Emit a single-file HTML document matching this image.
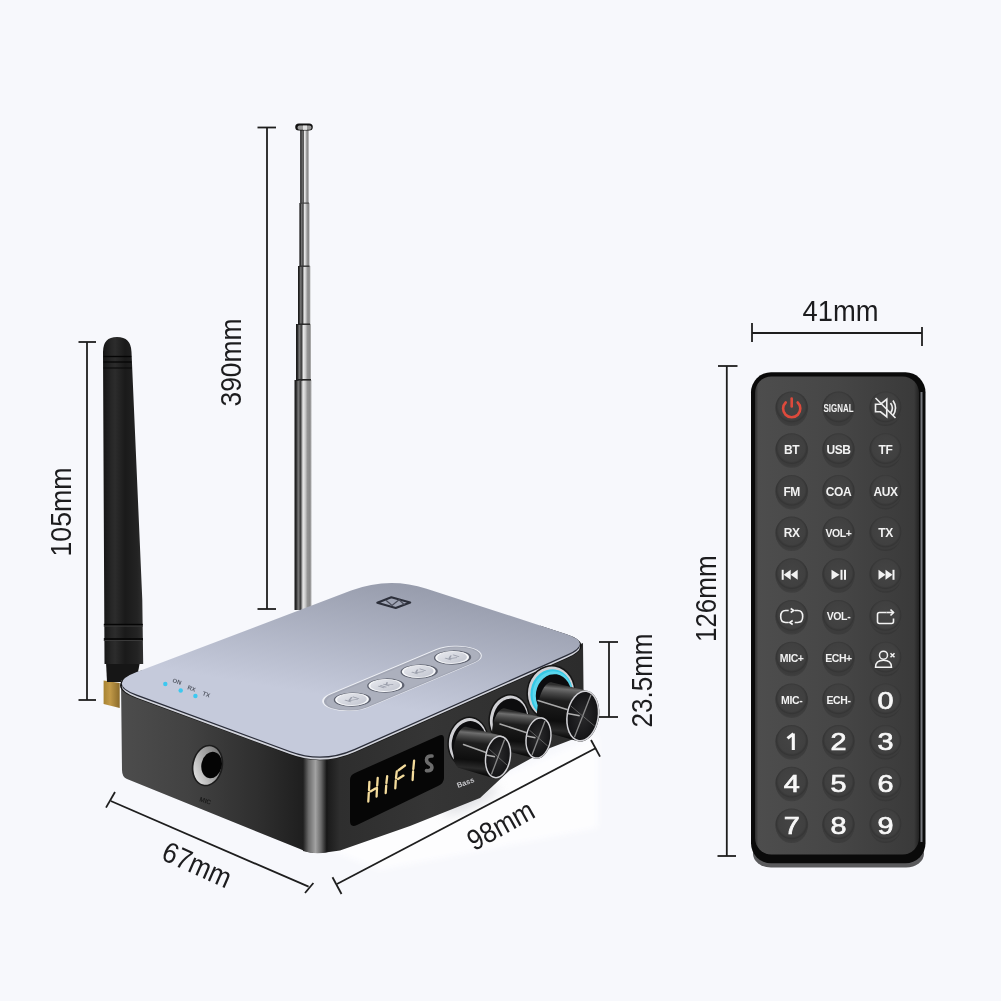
<!DOCTYPE html>
<html><head><meta charset="utf-8">
<style>
html,body{margin:0;padding:0;background:#f7f8fc;width:1001px;height:1001px;overflow:hidden}
svg{position:absolute;left:0;top:0;display:block;will-change:transform}
text{font-family:"Liberation Sans",sans-serif}
</style></head>
<body>
<svg width="1001" height="1001" viewBox="0 0 1001 1001">
<defs>
  <linearGradient id="topface" gradientUnits="userSpaceOnUse" x1="400" y1="585" x2="380" y2="705">
    <stop offset="0" stop-color="#989dad"/>
    <stop offset="1" stop-color="#c5cadb"/>
  </linearGradient>
  <linearGradient id="leftface" gradientUnits="userSpaceOnUse" x1="125" y1="0" x2="305" y2="0">
    <stop offset="0" stop-color="#4c4c4c"/>
    <stop offset="0.35" stop-color="#424242"/>
    <stop offset="0.75" stop-color="#2e2e2e"/>
    <stop offset="1" stop-color="#1e1e1e"/>
  </linearGradient>
  <linearGradient id="frontface" gradientUnits="userSpaceOnUse" x1="327" y1="0" x2="580" y2="0">
    <stop offset="0" stop-color="#1a1a1a"/>
    <stop offset="0.05" stop-color="#2e2e2e"/>
    <stop offset="0.4" stop-color="#353535"/>
    <stop offset="1" stop-color="#2c2c2c"/>
  </linearGradient>
  <linearGradient id="corner" gradientUnits="userSpaceOnUse" x1="303" y1="0" x2="328" y2="0">
    <stop offset="0" stop-color="#1e1e1e"/>
    <stop offset="0.22" stop-color="#6a6a6a"/>
    <stop offset="0.5" stop-color="#a2a2a2"/>
    <stop offset="0.72" stop-color="#6a6a6a"/>
    <stop offset="0.95" stop-color="#161616"/>
    <stop offset="1" stop-color="#1a1a1a"/>
  </linearGradient>
  <linearGradient id="ant" x1="0" y1="0" x2="1" y2="0">
    <stop offset="0" stop-color="#161616"/>
    <stop offset="0.1" stop-color="#2a2a2a"/>
    <stop offset="0.22" stop-color="#7a7a7a"/>
    <stop offset="0.36" stop-color="#3c3c3c"/>
    <stop offset="0.5" stop-color="#e6e6e6"/>
    <stop offset="0.62" stop-color="#cfcfcf"/>
    <stop offset="0.76" stop-color="#959595"/>
    <stop offset="0.9" stop-color="#8a8a8a"/>
    <stop offset="1" stop-color="#b4b4b4"/>
  </linearGradient>
  <linearGradient id="bant" x1="0" y1="0" x2="1" y2="0">
    <stop offset="0" stop-color="#141414"/>
    <stop offset="0.2" stop-color="#262626"/>
    <stop offset="0.3" stop-color="#2c2c2c"/>
    <stop offset="0.55" stop-color="#1a1a1a"/>
    <stop offset="0.85" stop-color="#232323"/>
    <stop offset="1" stop-color="#303030"/>
  </linearGradient>
  <linearGradient id="knobcyl" x1="0" y1="0" x2="0" y2="1">
    <stop offset="0" stop-color="#2a2a2c"/>
    <stop offset="0.25" stop-color="#6a6a6e"/>
    <stop offset="0.45" stop-color="#1c1c1e"/>
    <stop offset="1" stop-color="#0c0c0e"/>
  </linearGradient>
  <radialGradient id="knobface" cx="0.5" cy="0.5" r="0.5">
    <stop offset="0" stop-color="#2a2a2c"/>
    <stop offset="1" stop-color="#141416"/>
  </radialGradient>
  <radialGradient id="btn" cx="0.5" cy="0.45" r="0.5">
    <stop offset="0" stop-color="#444444"/>
    <stop offset="0.8" stop-color="#404040"/>
    <stop offset="0.93" stop-color="#353535"/>
    <stop offset="1" stop-color="#3c3c3c"/>
  </radialGradient>
  <linearGradient id="remface" x1="0" y1="0" x2="1" y2="0">
    <stop offset="0" stop-color="#2e2e2e"/>
    <stop offset="0.02" stop-color="#4d4d4d"/>
    <stop offset="0.5" stop-color="#464646"/>
    <stop offset="0.97" stop-color="#3a3a3a"/>
    <stop offset="1" stop-color="#222"/>
  </linearGradient>
  <linearGradient id="silverbtn" x1="0" y1="0" x2="0" y2="1">
    <stop offset="0" stop-color="#e4e6ec"/>
    <stop offset="1" stop-color="#c4c7d1"/>
  </linearGradient>
</defs>

<!-- white glow patch -->
<filter id="blur4" x="-20%" y="-20%" width="140%" height="140%"><feGaussianBlur stdDeviation="3"/></filter>
<filter id="blur8" x="-30%" y="-30%" width="160%" height="160%"><feGaussianBlur stdDeviation="6"/></filter>
<path d="M330 850 L598 735 L598 828 L380 870 Z" fill="#fdfdfe" filter="url(#blur4)"/>
<ellipse cx="470" cy="800" rx="30" ry="7" transform="rotate(-25 470 800)" fill="#cfd0d6" opacity="0.7" filter="url(#blur8)"/>
<!-- ============ DIMENSION LINES ============ -->
<g stroke="#1e1e1e" stroke-width="1.8" fill="none">
  <!-- 390mm -->
  <line x1="267" y1="127" x2="267" y2="609"/>
  <line x1="257.5" y1="127.5" x2="276" y2="127.5"/>
  <line x1="257.5" y1="609" x2="276" y2="609"/>
  <!-- 105mm -->
  <line x1="87" y1="342" x2="87" y2="700"/>
  <line x1="78.5" y1="342" x2="96" y2="342"/>
  <line x1="78.5" y1="700" x2="96" y2="700"/>
  <!-- 41mm -->
  <line x1="752" y1="333" x2="922" y2="333"/>
  <line x1="752" y1="323" x2="752" y2="342"/>
  <line x1="922" y1="327" x2="922" y2="346"/>
  <!-- 126mm -->
  <line x1="726.8" y1="366" x2="726.8" y2="856"/>
  <line x1="718" y1="366" x2="737.5" y2="366"/>
  <line x1="717.5" y1="856" x2="736" y2="856"/>
  <!-- 23.5mm -->
  <line x1="609" y1="642" x2="609" y2="717"/>
  <line x1="599" y1="642" x2="618" y2="642"/>
  <line x1="599" y1="717" x2="618" y2="717"/>
  <!-- 67mm -->
  <line x1="110.8" y1="801" x2="308.6" y2="886.7"/>
  <line x1="106" y1="807.6" x2="115" y2="792"/>
  <line x1="305" y1="893" x2="313.4" y2="883"/>
  <!-- 98mm -->
  <line x1="337" y1="884" x2="596" y2="748"/>
  <line x1="332.5" y1="877.3" x2="341.5" y2="894"/>
  <line x1="591" y1="740" x2="600" y2="756.6"/>
</g>

<g fill="#1c1c1e" font-size="29" lengthAdjust="spacingAndGlyphs">
  <text transform="translate(240.5,406.5) rotate(-90)" textLength="88" lengthAdjust="spacingAndGlyphs">390mm</text>
  <text transform="translate(70.5,556.5) rotate(-90)" textLength="89" lengthAdjust="spacingAndGlyphs">105mm</text>
  <text transform="translate(715.5,642) rotate(-90)" textLength="86.5" lengthAdjust="spacingAndGlyphs">126mm</text>
  <text x="802.5" y="320.5" textLength="76" lengthAdjust="spacingAndGlyphs">41mm</text>
  <text transform="translate(652,727.5) rotate(-90)" textLength="94" lengthAdjust="spacingAndGlyphs">23.5mm</text>
  <text transform="translate(160,859) rotate(24)" textLength="72.5" lengthAdjust="spacingAndGlyphs">67mm</text>
  <text transform="translate(474,851.5) rotate(-29)" textLength="72" lengthAdjust="spacingAndGlyphs">98mm</text>
</g>

<!-- ============ TELESCOPIC ANTENNA ============ -->
<g>
  <rect x="294.5" y="380" width="17" height="230" fill="url(#ant)"/>
  <rect x="296" y="324" width="15" height="57" fill="url(#ant)"/>
  <rect x="298" y="266" width="12.4" height="59" fill="url(#ant)"/>
  <rect x="299.4" y="203" width="10.2" height="64" fill="url(#ant)"/>
  <rect x="300.2" y="130" width="8.6" height="74" fill="url(#ant)"/>
    <rect x="295.2" y="123.4" width="17.6" height="7.2" rx="3.6" fill="#111"/>
  <rect x="297.5" y="125.6" width="14" height="4.2" rx="2" fill="#9a9a9a"/>
  <rect x="303" y="125.6" width="4" height="4.2" fill="#e0e0e0"/>
  <rect x="297" y="379" width="14" height="1.6" fill="#222"/>
  <rect x="298" y="323.5" width="12" height="1.4" fill="#222"/>
  <rect x="299.5" y="265.5" width="10" height="1.4" fill="#333"/>
  <rect x="300" y="202.5" width="9" height="1.2" fill="#444"/>
</g>

<!-- ============ BLACK ANTENNA ============ -->
<g>
  <linearGradient id="gold" x1="0" y1="0" x2="1" y2="0">
    <stop offset="0" stop-color="#a88432"/><stop offset="0.4" stop-color="#c29a48"/><stop offset="1" stop-color="#8a6a2a"/>
  </linearGradient>
  <path d="M103.6 680.5 L119.7 683 L119.7 708 L103.6 704 Z" fill="url(#gold)"/>
  <path d="M106 662 L140 662 L136 682 L107 682 Z" fill="#161616"/>
  <path d="M103 352 Q103 337 117 337 Q131 337 131.5 352 L142.3 600 L143.2 664 L104.5 664 Z" fill="url(#bant)"/>
  <rect x="103.8" y="623.8" width="39" height="1.6" fill="#050505"/>
  <rect x="103.8" y="625.6" width="39" height="1" fill="#3a3a3a"/>
  <rect x="103.8" y="638.2" width="39.2" height="1.6" fill="#050505"/>
  <rect x="103.8" y="640" width="39.2" height="1" fill="#3a3a3a"/>
  <path d="M103.5 356.5 L131.3 356.5" stroke="#050505" stroke-width="1.3"/>
  <path d="M103.5 362 L131.5 362" stroke="#050505" stroke-width="1.3"/>
  <path d="M103.5 368 L131.7 368" stroke="#0a0a0a" stroke-width="1.1"/>
</g>

<!-- ============ DEVICE BODY ============ -->
<g>
  <!-- left face (MIC) -->
  <path d="M121 680 L316 752 L316 853 Q308 853 300 849 L127 779 Q122 777 122 770 Z" fill="url(#leftface)"/>
  <!-- front face -->
  <path d="M312 752 L583 643 L584 735 L550 748 L510 770 L480 798 L410 826 L340 850.4 Q325 853 312 853 Z" fill="url(#frontface)"/>
  <!-- corner highlight -->
  <path d="M303 752 L328 758 L328 852 Q316 855 303 851 Z" fill="url(#corner)"/>
  <!-- top face bevel (silver rim) -->
  <clipPath id="outclip"><path d="M95 655 L142 655 L142 677 L540 640 L540 600 L620 600 L620 900 L95 900 Z"/></clipPath>
  <path d="M136.8 694.6 Q106.8 683.5 136.7 672.1 L351.1 590.6 Q388.5 576.4 426.6 588.7 L565.9 633.9 Q593.5 642.8 567.0 654.6 L354.7 748.8 Q322.7 763.0 289.9 750.9 Z" fill="#151515" stroke="#151515" stroke-width="3.5" transform="translate(0,2)" clip-path="url(#outclip)"/>
  <path d="M136.8 694.6 Q106.8 683.5 136.7 672.1 L351.1 590.6 Q388.5 576.4 426.6 588.7 L565.9 633.9 Q593.5 642.8 567.0 654.6 L354.7 748.8 Q322.7 763.0 289.9 750.9 Z" fill="#d2d4dc" transform="translate(0,3.2)"/>
  <path d="M136.8 694.6 Q106.8 683.5 136.7 672.1 L351.1 590.6 Q388.5 576.4 426.6 588.7 L565.9 633.9 Q593.5 642.8 567.0 654.6 L354.7 748.8 Q322.7 763.0 289.9 750.9 Z" fill="#2b2e3a" transform="translate(0,1.4)"/>
  <!-- top face -->
  <path d="M136.8 694.6 Q106.8 683.5 136.7 672.1 L351.1 590.6 Q388.5 576.4 426.6 588.7 L565.9 633.9 Q593.5 642.8 567.0 654.6 L354.7 748.8 Q322.7 763.0 289.9 750.9 Z" fill="url(#topface)"/>

  <!-- LEDs -->
  <circle cx="165.3" cy="684" r="2.2" fill="#3cc8f0"/>
  <circle cx="180.7" cy="690.5" r="2.2" fill="#3cc8f0"/>
  <circle cx="195.4" cy="696" r="2.2" fill="#3cc8f0"/>
  <g fill="#555a66" font-size="6" font-weight="bold">
    <text transform="translate(172,682) rotate(20)">ON</text>
    <text transform="translate(187,689) rotate(20)">RX</text>
    <text transform="translate(202,695) rotate(20)">TX</text>
  </g>

  <!-- NFC logo -->
  <path d="M377.3 602.7 L391.3 597.3 L410.2 602.5 L395.7 608 Z" fill="none" stroke="#2c2f3a" stroke-width="2.1" stroke-linejoin="round"/>
  <path d="M386 600.3 L392 605.5 L399 599.8 L404.5 604.8" fill="none" stroke="#4a4d5a" stroke-width="1.3"/>

  <!-- button strip -->
  <g transform="matrix(0.982 -0.412 1.017 0.357 351.9 699.4)">
    <rect x="-22" y="-19" width="146" height="38" rx="19" fill="#eef0f5"/>
    <rect x="-21" y="-17.6" width="144" height="36" rx="18" fill="#a2a6b4"/>
    <rect x="-19.5" y="-15.5" width="141" height="32.5" rx="16.2" fill="#acb0bd"/>
    <g stroke="#5f6370" stroke-width="1.6">
      <circle cx="0" cy="0.5" r="12.4" fill="url(#silverbtn)"/>
      <circle cx="34" cy="0.5" r="12.4" fill="url(#silverbtn)"/>
      <circle cx="68" cy="0.5" r="12.4" fill="url(#silverbtn)"/>
      <circle cx="102" cy="0.5" r="12.4" fill="url(#silverbtn)"/>
    </g>
    <g fill="none" stroke="#f8f9fb" stroke-width="1.4">
      <circle cx="0" cy="0" r="11.2"/>
      <circle cx="34" cy="0" r="11.2"/>
      <circle cx="68" cy="0" r="11.2"/>
      <circle cx="102" cy="0" r="11.2"/>
    </g>
    <g fill="none" stroke="#9a9eab" stroke-width="1.2">
      <path d="M-4 -3 L-4 3 M-3 0 L3 -3 M-3 0 L3 3 M4 -3 L4 3"/>
      <path d="M30 -3 L30 3 M32 -3 L32 3 M35 -3 L35 3 M35 0 L39 -3 M35 0 L39 3"/>
      <path d="M64 -3 L64 3 M65 0 L70 -3 M65 0 L70 3 M72 -3 L72 3"/>
      <path d="M98 -3 L98 3 M99 0 L104 -3 M99 0 L104 3 M106 -3 L106 3"/>
    </g>
  </g>

  <!-- MIC jack -->
  <ellipse cx="207.5" cy="765.5" rx="15.5" ry="21" transform="rotate(12 207.5 765.5)" fill="#1c1c1c"/>
  <linearGradient id="jackring" x1="0" y1="1" x2="1" y2="0">
    <stop offset="0" stop-color="#f0f0f0"/><stop offset="0.5" stop-color="#a8a8a8"/><stop offset="1" stop-color="#6a6a6a"/>
  </linearGradient>
  <ellipse cx="207.5" cy="765.5" rx="13.8" ry="19.5" transform="rotate(12 207.5 765.5)" fill="url(#jackring)"/>
  <ellipse cx="211.6" cy="765" rx="10.2" ry="13.3" transform="rotate(12 211.6 765)" fill="#050505"/>
  <text transform="translate(199,801) rotate(18)" font-size="6.5" fill="#1a1a1a" font-weight="bold">MIC</text>

  <!-- display -->
  <path d="M355 773 L438 736 Q444 733 444 739 L444 778 Q444 783 438 786 L357 825 Q350 828 350 821 L350 780 Q350 775 355 773 Z" fill="#060606"/>
  <g fill="none" stroke="#f4dc9c" stroke-width="2.3" stroke-linecap="round">
    <!-- H -->
    <path d="M368.3 801.5 L368.8 792.8 M369 790 L369.4 782 M376.6 796.5 L377 788 M377.2 785.5 L377.7 778 M370.5 791.4 L375.4 788.4"/>
    <!-- I -->
    <path d="M385.7 793 L386.2 785.6 M386.4 783 L387.2 776.2"/>
    <!-- F -->
    <path d="M395.3 788.3 L395.8 780.4 M396 777.8 L396.8 771.4 M398.5 770.2 L405 765.5 M398 779 L403.5 775.6"/>
    <!-- I -->
    <path d="M412.6 780 L413.1 771.5 M413.3 769 L414.1 760.6"/>
  </g>
  <path d="M432 756 Q426.5 755.5 426.5 759.8 Q426.5 762.8 429.5 764 Q432.3 765.4 431.8 768.3 Q431 771.3 426.5 770.6" stroke="#6c6c6c" stroke-width="3.6" fill="none" stroke-linecap="round" stroke-linejoin="round"/>

  <!-- Bass label -->
  <text transform="translate(458,788) rotate(-20)" font-size="7.5" fill="#c8c8cc" font-weight="bold">Bass</text>
</g>

<!-- ============ KNOBS ============ -->
<g id="knobs">
<ellipse cx="551" cy="692.5" rx="24.5" ry="27.5" transform="rotate(9 551 692.5)" fill="#151515"/>
<ellipse cx="551" cy="692.5" rx="23" ry="26" transform="rotate(9 551 692.5)" fill="#d0d0d4"/>
<ellipse cx="551.6" cy="693.1" rx="21" ry="24" transform="rotate(9 551 692.5)" fill="#35c9e6"/>
<ellipse cx="552.6" cy="693.5" rx="19.8" ry="22.6" transform="rotate(9 551 692.5)" fill="#7fe4f4" opacity="0.5"/>
<ellipse cx="553.8" cy="694.3" rx="17.6" ry="20.6" transform="rotate(9 551 692.5)" fill="#0c0c0e"/>
<linearGradient id="kc3" gradientUnits="userSpaceOnUse" x1="567.5" y1="685.9" x2="562.9" y2="737.1">
    <stop offset="0" stop-color="#2e2e2e"/><stop offset="0.07" stop-color="#6e6e6e"/><stop offset="0.16" stop-color="#4a4a4a"/>
    <stop offset="0.3" stop-color="#1e1e1e"/><stop offset="0.7" stop-color="#0e0e0e"/><stop offset="0.88" stop-color="#2a2a2a"/><stop offset="1" stop-color="#0c0c0c"/>
  </linearGradient>
<path d="M537.0 714.4 L537.0 713.1 L537.0 711.9 L537.1 710.6 L537.2 709.3 L537.4 708.0 L537.5 706.7 L537.7 705.4 L537.9 704.1 L538.2 702.8 L538.5 701.6 L538.8 700.3 L539.1 699.1 L539.4 697.9 L539.8 696.7 L540.2 695.5 L540.6 694.4 L541.0 693.3 L541.5 692.2 L541.9 691.2 L542.4 690.2 L542.9 689.3 L543.4 688.4 L543.9 687.6 L544.5 686.8 L545.0 686.1 L545.5 685.4 L546.1 684.8 L546.7 684.3 L547.2 683.8 L547.8 683.4 L548.3 683.0 L548.9 682.7 L549.5 682.5 L550.0 682.3 L550.5 682.2 L551.1 682.2 L551.6 682.3 L552.1 682.4 L587.6 690.7 L588.4 690.9 L589.2 691.2 L590.0 691.6 L590.8 692.0 L591.5 692.5 L592.2 693.1 L592.9 693.8 L593.6 694.5 L594.2 695.2 L594.9 696.0 L595.4 696.9 L596.0 697.8 L596.5 698.8 L596.9 699.8 L597.4 700.8 L597.8 702.0 L598.1 703.1 L598.4 704.3 L598.7 705.5 L598.9 706.7 L599.0 708.0 L599.2 709.2 L599.3 710.5 L599.3 711.9 L599.3 713.2 L599.2 714.5 L599.1 715.9 L599.0 717.2 L598.8 718.5 L598.6 719.9 L598.3 721.2 L598.0 722.5 L597.6 723.8 L597.2 725.1 L596.8 726.3 L596.3 727.5 L595.8 728.7 L595.2 729.8 L594.6 731.0 L594.0 732.0 L593.4 733.0 L592.7 734.0 L592.0 735.0 L591.2 735.8 L590.5 736.6 L589.7 737.4 L588.9 738.1 L588.1 738.8 L587.2 739.3 L586.4 739.9 L585.6 740.3 L584.7 740.7 L583.8 741.0 L583.0 741.3 L582.1 741.5 L581.2 741.6 L580.4 741.6 L579.5 741.6 L578.7 741.5 L577.8 741.3 L577.0 741.1 L543.3 731.6 L542.8 731.4 L542.3 731.2 L541.8 730.9 L541.3 730.5 L540.9 730.0 L540.5 729.5 L540.1 728.9 L539.7 728.3 L539.3 727.6 L539.0 726.9 L538.7 726.1 L538.4 725.2 L538.1 724.3 L537.9 723.4 L537.7 722.4 L537.5 721.3 L537.3 720.2 L537.2 719.1 L537.1 718.0 L537.0 716.8 L537.0 715.6 Z" fill="url(#kc3)"/>
<line x1="538" y1="700.5" x2="567" y2="709.5" stroke="#a8a8a8" stroke-width="1.5" stroke-linecap="round"/>
<ellipse cx="582.7" cy="716" rx="16.3" ry="25.8" transform="rotate(9 582.7 716)" fill="#d2d2d6"/>
<ellipse cx="582.7" cy="716" rx="14.8" ry="24.3" transform="rotate(9 582.7 716)" fill="url(#knobface)"/>
<line x1="582.7" y1="716" x2="591.0" y2="694.7" stroke="#9c9c9c" stroke-width="1.3" opacity="0.85"/>
<line x1="582.7" y1="716" x2="574.4" y2="737.3" stroke="#9c9c9c" stroke-width="1.3" opacity="0.85"/>
<line x1="582.7" y1="716" x2="594.7" y2="726.1" stroke="#7a7a7a" stroke-width="1" opacity="0.7"/>
<line x1="582.7" y1="716" x2="570.7" y2="705.9" stroke="#7a7a7a" stroke-width="1" opacity="0.7"/>
<line x1="567.6" y1="713.6" x2="579.7" y2="715.7" stroke="#b0b0b0" stroke-width="1.5"/>
<ellipse cx="509" cy="719" rx="20.5" ry="25.0" transform="rotate(9 509 719)" fill="#151515"/>
<ellipse cx="509" cy="719" rx="19" ry="23.5" transform="rotate(9 509 719)" fill="#d0d0d4"/>
<ellipse cx="510.2" cy="720" rx="17.2" ry="21.7" transform="rotate(9 509 719)" fill="#0c0c0e"/>
<linearGradient id="kc2" gradientUnits="userSpaceOnUse" x1="521.9" y1="712.4" x2="518.1" y2="754.1">
    <stop offset="0" stop-color="#2e2e2e"/><stop offset="0.07" stop-color="#6e6e6e"/><stop offset="0.16" stop-color="#4a4a4a"/>
    <stop offset="0.3" stop-color="#1e1e1e"/><stop offset="0.7" stop-color="#0e0e0e"/><stop offset="0.88" stop-color="#2a2a2a"/><stop offset="1" stop-color="#0c0c0c"/>
  </linearGradient>
<path d="M492.0 733.4 L492.0 732.3 L492.1 731.3 L492.1 730.2 L492.2 729.2 L492.4 728.1 L492.5 727.1 L492.7 726.0 L492.9 725.0 L493.1 724.0 L493.4 722.9 L493.6 721.9 L493.9 720.9 L494.2 720.0 L494.6 719.0 L494.9 718.1 L495.3 717.2 L495.7 716.4 L496.1 715.5 L496.5 714.7 L496.9 714.0 L497.4 713.3 L497.9 712.6 L498.3 712.0 L498.8 711.4 L499.3 710.9 L499.8 710.4 L500.3 709.9 L500.8 709.5 L501.2 709.2 L501.8 708.9 L502.2 708.7 L502.8 708.5 L503.2 708.4 L503.7 708.3 L504.2 708.3 L504.7 708.4 L505.1 708.5 L542.5 717.4 L543.1 717.6 L543.8 717.8 L544.4 718.1 L545.0 718.5 L545.6 718.9 L546.2 719.4 L546.7 719.9 L547.3 720.4 L547.8 721.0 L548.2 721.7 L548.7 722.4 L549.1 723.2 L549.5 724.0 L549.9 724.8 L550.2 725.6 L550.5 726.5 L550.8 727.5 L551.1 728.4 L551.3 729.4 L551.4 730.4 L551.6 731.4 L551.7 732.5 L551.7 733.5 L551.8 734.6 L551.7 735.7 L551.7 736.8 L551.6 737.9 L551.5 739.0 L551.3 740.0 L551.1 741.1 L550.9 742.2 L550.7 743.2 L550.4 744.3 L550.0 745.3 L549.7 746.3 L549.3 747.3 L548.9 748.3 L548.5 749.2 L548.0 750.1 L547.5 751.0 L547.0 751.8 L546.4 752.6 L545.8 753.4 L545.3 754.1 L544.6 754.8 L544.0 755.4 L543.4 756.0 L542.7 756.5 L542.1 757.0 L541.4 757.4 L540.7 757.8 L540.0 758.1 L539.3 758.4 L538.6 758.6 L538.0 758.7 L537.3 758.8 L536.6 758.8 L535.9 758.8 L535.2 758.7 L534.5 758.6 L497.9 748.5 L497.4 748.4 L496.9 748.1 L496.5 747.9 L496.1 747.6 L495.7 747.2 L495.3 746.8 L494.9 746.3 L494.6 745.8 L494.2 745.2 L493.9 744.6 L493.6 743.9 L493.4 743.2 L493.1 742.5 L492.9 741.7 L492.7 740.9 L492.5 740.1 L492.4 739.2 L492.2 738.3 L492.1 737.3 L492.0 736.4 L492.0 735.4 L492.0 734.4 Z" fill="url(#kc2)"/>
<line x1="500" y1="724" x2="526" y2="732.5" stroke="#a8a8a8" stroke-width="1.5" stroke-linecap="round"/>
<ellipse cx="538.5" cy="738" rx="13" ry="21" transform="rotate(9 538.5 738)" fill="#d2d2d6"/>
<ellipse cx="538.5" cy="738" rx="11.5" ry="19.5" transform="rotate(9 538.5 738)" fill="url(#knobface)"/>
<line x1="538.5" y1="738" x2="545.0" y2="721.0" stroke="#9c9c9c" stroke-width="1.3" opacity="0.85"/>
<line x1="538.5" y1="738" x2="532.0" y2="755.0" stroke="#9c9c9c" stroke-width="1.3" opacity="0.85"/>
<line x1="538.5" y1="738" x2="547.7" y2="746.0" stroke="#7a7a7a" stroke-width="1" opacity="0.7"/>
<line x1="538.5" y1="738" x2="529.3" y2="730.0" stroke="#7a7a7a" stroke-width="1" opacity="0.7"/>
<line x1="526.6" y1="736.1" x2="535.5" y2="737.7" stroke="#b0b0b0" stroke-width="1.5"/>
<ellipse cx="468" cy="742" rx="20.5" ry="25.5" transform="rotate(9 468 742)" fill="#151515"/>
<ellipse cx="468" cy="742" rx="19" ry="24" transform="rotate(9 468 742)" fill="#d0d0d4"/>
<ellipse cx="469.2" cy="743" rx="17.2" ry="22.2" transform="rotate(9 468 742)" fill="#0c0c0e"/>
<linearGradient id="kc1" gradientUnits="userSpaceOnUse" x1="482.5" y1="730.8" x2="478.5" y2="773.7">
    <stop offset="0" stop-color="#2e2e2e"/><stop offset="0.07" stop-color="#6e6e6e"/><stop offset="0.16" stop-color="#4a4a4a"/>
    <stop offset="0.3" stop-color="#1e1e1e"/><stop offset="0.7" stop-color="#0e0e0e"/><stop offset="0.88" stop-color="#2a2a2a"/><stop offset="1" stop-color="#0c0c0c"/>
  </linearGradient>
<path d="M453.4 753.6 L453.4 752.5 L453.5 751.5 L453.5 750.4 L453.6 749.3 L453.7 748.2 L453.9 747.2 L454.0 746.1 L454.2 745.0 L454.4 743.9 L454.6 742.9 L454.9 741.8 L455.2 740.8 L455.5 739.8 L455.8 738.8 L456.1 737.8 L456.5 736.8 L456.9 735.9 L457.2 735.0 L457.7 734.2 L458.1 733.4 L458.5 732.6 L459.0 731.9 L459.4 731.2 L459.9 730.5 L460.4 729.9 L460.9 729.4 L461.3 728.9 L461.8 728.4 L462.3 728.0 L462.8 727.7 L463.3 727.4 L463.8 727.1 L464.3 727.0 L464.8 726.8 L465.3 726.8 L465.8 726.8 L466.3 726.8 L466.7 726.9 L502.1 735.8 L502.7 736.0 L503.4 736.2 L504.0 736.5 L504.6 736.9 L505.2 737.3 L505.8 737.8 L506.3 738.3 L506.8 738.9 L507.4 739.5 L507.8 740.2 L508.3 740.9 L508.7 741.7 L509.1 742.5 L509.5 743.4 L509.8 744.2 L510.1 745.1 L510.4 746.1 L510.6 747.1 L510.8 748.1 L511.0 749.1 L511.1 750.2 L511.2 751.2 L511.3 752.3 L511.3 753.4 L511.3 754.5 L511.2 755.7 L511.1 756.8 L511.0 757.9 L510.8 759.0 L510.6 760.1 L510.4 761.2 L510.1 762.4 L509.9 763.4 L509.5 764.5 L509.2 765.5 L508.8 766.5 L508.4 767.5 L507.9 768.5 L507.4 769.4 L506.9 770.3 L506.4 771.2 L505.9 772.0 L505.3 772.8 L504.7 773.5 L504.1 774.2 L503.4 774.9 L502.8 775.5 L502.2 776.0 L501.5 776.5 L500.8 776.9 L500.1 777.3 L499.4 777.6 L498.8 777.9 L498.1 778.1 L497.4 778.3 L496.7 778.4 L496.0 778.4 L495.3 778.4 L494.6 778.3 L493.9 778.2 L459.3 768.1 L458.8 767.9 L458.4 767.7 L457.9 767.5 L457.5 767.1 L457.1 766.7 L456.7 766.3 L456.4 765.8 L456.0 765.3 L455.7 764.7 L455.4 764.1 L455.1 763.4 L454.8 762.7 L454.6 761.9 L454.3 761.1 L454.1 760.3 L453.9 759.4 L453.8 758.5 L453.7 757.6 L453.6 756.6 L453.5 755.6 L453.5 754.6 Z" fill="url(#kc1)"/>
<line x1="463.5" y1="744.5" x2="486" y2="752.5" stroke="#a8a8a8" stroke-width="1.5" stroke-linecap="round"/>
<ellipse cx="498" cy="757" rx="13" ry="21.6" transform="rotate(9 498 757)" fill="#d2d2d6"/>
<ellipse cx="498" cy="757" rx="11.5" ry="20.1" transform="rotate(9 498 757)" fill="url(#knobface)"/>
<line x1="498" y1="757" x2="504.6" y2="739.4" stroke="#9c9c9c" stroke-width="1.3" opacity="0.85"/>
<line x1="498" y1="757" x2="491.4" y2="774.6" stroke="#9c9c9c" stroke-width="1.3" opacity="0.85"/>
<line x1="498" y1="757" x2="507.2" y2="765.2" stroke="#7a7a7a" stroke-width="1" opacity="0.7"/>
<line x1="498" y1="757" x2="488.8" y2="748.8" stroke="#7a7a7a" stroke-width="1" opacity="0.7"/>
<line x1="486.1" y1="755.1" x2="495.0" y2="756.7" stroke="#b0b0b0" stroke-width="1.5"/>
</g>

<!-- ============ REMOTE ============ -->
<g>
  <rect x="753" y="840" width="171" height="27.5" rx="18" fill="#5a5a5c"/>
  <rect x="751" y="372.3" width="174.5" height="491" rx="20" fill="#0a0a0a"/>
  <rect x="920.5" y="392" width="2" height="450" fill="#74767c"/>
  <rect x="755" y="376.5" width="164" height="478" rx="16.5" fill="url(#remface)"/>
  <g id="btns">
<circle cx="791.7" cy="410.5" r="15.5" fill="#2a2a2a" opacity="0.35"/>
<circle cx="791.7" cy="408.0" r="16.5" fill="url(#btn)"/>
<path d="M785.7 402.5 A8.6 8.6 0 1 0 797.7 402.5" fill="none" stroke="#dd4a3c" stroke-width="2.6" stroke-linecap="round"/>
<line x1="791.7" y1="398.5" x2="791.7" y2="406.5" stroke="#dd4a3c" stroke-width="2.6" stroke-linecap="round"/>
<circle cx="838.5" cy="410.5" r="15.5" fill="#2a2a2a" opacity="0.35"/>
<circle cx="838.5" cy="408.0" r="16.5" fill="url(#btn)"/>
<text x="823.5" y="412.0" font-size="11" font-weight="bold" fill="#f2f2f2" textLength="30" lengthAdjust="spacingAndGlyphs">SIGNAL</text>
<circle cx="885.5" cy="410.5" r="15.5" fill="#2a2a2a" opacity="0.35"/>
<circle cx="885.5" cy="408.0" r="16.5" fill="url(#btn)"/>
<g fill="none" stroke="#eee" stroke-width="1.3" transform="translate(885.5,408.0) scale(1.25)"><path d="M-8 -3 L-4 -3 L1 -7 L1 7 L-4 3 L-8 3 Z"/><path d="M4 -4 Q7 0 4 4"/><path d="M6 -6 Q10 0 6 6"/><path d="M-8 -8 L8 8"/></g>
<circle cx="791.7" cy="452.2" r="15.5" fill="#2a2a2a" opacity="0.35"/>
<circle cx="791.7" cy="449.7" r="16.5" fill="url(#btn)"/>
<text x="791.7" y="454.02" text-anchor="middle" font-size="12" font-weight="bold" fill="#f2f2f2" letter-spacing="-0.4">BT</text>
<circle cx="838.5" cy="452.2" r="15.5" fill="#2a2a2a" opacity="0.35"/>
<circle cx="838.5" cy="449.7" r="16.5" fill="url(#btn)"/>
<text x="838.5" y="454.02" text-anchor="middle" font-size="12" font-weight="bold" fill="#f2f2f2" letter-spacing="-0.4">USB</text>
<circle cx="885.5" cy="452.2" r="15.5" fill="#2a2a2a" opacity="0.35"/>
<circle cx="885.5" cy="449.7" r="16.5" fill="url(#btn)"/>
<text x="885.5" y="454.02" text-anchor="middle" font-size="12" font-weight="bold" fill="#f2f2f2" letter-spacing="-0.4">TF</text>
<circle cx="791.7" cy="493.9" r="15.5" fill="#2a2a2a" opacity="0.35"/>
<circle cx="791.7" cy="491.4" r="16.5" fill="url(#btn)"/>
<text x="791.7" y="495.71999999999997" text-anchor="middle" font-size="12" font-weight="bold" fill="#f2f2f2" letter-spacing="-0.4">FM</text>
<circle cx="838.5" cy="493.9" r="15.5" fill="#2a2a2a" opacity="0.35"/>
<circle cx="838.5" cy="491.4" r="16.5" fill="url(#btn)"/>
<text x="838.5" y="495.71999999999997" text-anchor="middle" font-size="12" font-weight="bold" fill="#f2f2f2" letter-spacing="-0.4">COA</text>
<circle cx="885.5" cy="493.9" r="15.5" fill="#2a2a2a" opacity="0.35"/>
<circle cx="885.5" cy="491.4" r="16.5" fill="url(#btn)"/>
<text x="885.5" y="495.71999999999997" text-anchor="middle" font-size="12" font-weight="bold" fill="#f2f2f2" letter-spacing="-0.4">AUX</text>
<circle cx="791.7" cy="535.6" r="15.5" fill="#2a2a2a" opacity="0.35"/>
<circle cx="791.7" cy="533.1" r="16.5" fill="url(#btn)"/>
<text x="791.7" y="537.4200000000001" text-anchor="middle" font-size="12" font-weight="bold" fill="#f2f2f2" letter-spacing="-0.4">RX</text>
<circle cx="838.5" cy="535.6" r="15.5" fill="#2a2a2a" opacity="0.35"/>
<circle cx="838.5" cy="533.1" r="16.5" fill="url(#btn)"/>
<text x="838.5" y="536.88" text-anchor="middle" font-size="10.5" font-weight="bold" fill="#f2f2f2" letter-spacing="-0.4">VOL+</text>
<circle cx="885.5" cy="535.6" r="15.5" fill="#2a2a2a" opacity="0.35"/>
<circle cx="885.5" cy="533.1" r="16.5" fill="url(#btn)"/>
<text x="885.5" y="537.4200000000001" text-anchor="middle" font-size="12" font-weight="bold" fill="#f2f2f2" letter-spacing="-0.4">TX</text>
<circle cx="791.7" cy="577.3" r="15.5" fill="#2a2a2a" opacity="0.35"/>
<circle cx="791.7" cy="574.8" r="16.5" fill="url(#btn)"/>
<g fill="#f2f2f2" transform="translate(791.7,574.8)"><rect x="-10" y="-5" width="2" height="10"/><path d="M-8 0 L-1 -5 L-1 5 Z"/><path d="M-1 0 L6 -5 L6 5 Z"/></g>
<circle cx="838.5" cy="577.3" r="15.5" fill="#2a2a2a" opacity="0.35"/>
<circle cx="838.5" cy="574.8" r="16.5" fill="url(#btn)"/>
<g fill="#f2f2f2" transform="translate(838.5,574.8)"><path d="M-7 -5 L1 0 L-7 5 Z"/><rect x="2" y="-5" width="2" height="10"/><rect x="5.5" y="-5" width="2" height="10"/></g>
<circle cx="885.5" cy="577.3" r="15.5" fill="#2a2a2a" opacity="0.35"/>
<circle cx="885.5" cy="574.8" r="16.5" fill="url(#btn)"/>
<g fill="#f2f2f2" transform="translate(885.5,574.8)"><path d="M-7 -5 L0 0 L-7 5 Z"/><path d="M0 -5 L7 0 L0 5 Z"/><rect x="7" y="-5" width="2" height="10"/></g>
<circle cx="791.7" cy="619.0" r="15.5" fill="#2a2a2a" opacity="0.35"/>
<circle cx="791.7" cy="616.5" r="16.5" fill="url(#btn)"/>
<g fill="none" stroke="#f2f2f2" stroke-width="1.6" transform="translate(791.7,616.5)"><path d="M-3 -6 L-6 -6 Q-11 -6 -11 0 Q-11 6 -6 6 L-3 6"/><path d="M3 6 L6 6 Q11 6 11 0 Q11 -6 6 -6 L3 -6"/><path d="M-1 -8 L2 -6 L-1 -4" /><path d="M1 4 L-2 6 L1 8"/></g>
<circle cx="838.5" cy="619.0" r="15.5" fill="#2a2a2a" opacity="0.35"/>
<circle cx="838.5" cy="616.5" r="16.5" fill="url(#btn)"/>
<text x="838.5" y="620.28" text-anchor="middle" font-size="10.5" font-weight="bold" fill="#f2f2f2" letter-spacing="-0.4">VOL-</text>
<circle cx="885.5" cy="619.0" r="15.5" fill="#2a2a2a" opacity="0.35"/>
<circle cx="885.5" cy="616.5" r="16.5" fill="url(#btn)"/>
<g fill="none" stroke="#f2f2f2" stroke-width="1.6" transform="translate(885.5,616.5)"><path d="M1 -4 L-6 -4 Q-8 -4 -8 -2 L-8 5 Q-8 7 -6 7 L6 7 Q8 7 8 5 L8 2"/><path d="M1 -4 L8 -4"/><path d="M5 -7 L8 -4 L5 -1"/></g>
<circle cx="791.7" cy="660.7" r="15.5" fill="#2a2a2a" opacity="0.35"/>
<circle cx="791.7" cy="658.2" r="16.5" fill="url(#btn)"/>
<text x="791.7" y="661.98" text-anchor="middle" font-size="10.5" font-weight="bold" fill="#f2f2f2" letter-spacing="-0.4">MIC+</text>
<circle cx="838.5" cy="660.7" r="15.5" fill="#2a2a2a" opacity="0.35"/>
<circle cx="838.5" cy="658.2" r="16.5" fill="url(#btn)"/>
<text x="838.5" y="661.98" text-anchor="middle" font-size="10.5" font-weight="bold" fill="#f2f2f2" letter-spacing="-0.4">ECH+</text>
<circle cx="885.5" cy="660.7" r="15.5" fill="#2a2a2a" opacity="0.35"/>
<circle cx="885.5" cy="658.2" r="16.5" fill="url(#btn)"/>
<g fill="none" stroke="#f2f2f2" stroke-width="1.5" transform="translate(884.5,658.2)"><circle cx="-1" cy="-3" r="4"/><path d="M-9 9 Q-9 2 -1 2 Q7 2 7 9 Z"/><path d="M6 -5 L10 -1 M10 -5 L6 -1"/></g>
<circle cx="791.7" cy="702.4000000000001" r="15.5" fill="#2a2a2a" opacity="0.35"/>
<circle cx="791.7" cy="699.9000000000001" r="16.5" fill="url(#btn)"/>
<text x="791.7" y="703.6800000000001" text-anchor="middle" font-size="10.5" font-weight="bold" fill="#f2f2f2" letter-spacing="-0.4">MIC-</text>
<circle cx="838.5" cy="702.4000000000001" r="15.5" fill="#2a2a2a" opacity="0.35"/>
<circle cx="838.5" cy="699.9000000000001" r="16.5" fill="url(#btn)"/>
<text x="838.5" y="703.6800000000001" text-anchor="middle" font-size="10.5" font-weight="bold" fill="#f2f2f2" letter-spacing="-0.4">ECH-</text>
<circle cx="885.5" cy="702.4000000000001" r="15.5" fill="#2a2a2a" opacity="0.35"/>
<circle cx="885.5" cy="699.9000000000001" r="16.5" fill="url(#btn)"/>
<text transform="translate(885.5,708.5000000000001) scale(1.2,1)" text-anchor="middle" font-size="24" fill="#f8f8f8" stroke="#f8f8f8" stroke-width="0.7">0</text>
<circle cx="791.7" cy="744.1" r="15.5" fill="#2a2a2a" opacity="0.35"/>
<circle cx="791.7" cy="741.6" r="16.5" fill="url(#btn)"/>
<path d="M793.3000000000001 750.0 L793.3000000000001 733.4 M793.5 733.6 L787.5 738.4" stroke="#f8f8f8" stroke-width="3.1" fill="none" stroke-linejoin="round"/>
<circle cx="838.5" cy="744.1" r="15.5" fill="#2a2a2a" opacity="0.35"/>
<circle cx="838.5" cy="741.6" r="16.5" fill="url(#btn)"/>
<text transform="translate(838.5,750.2) scale(1.2,1)" text-anchor="middle" font-size="24" fill="#f8f8f8" stroke="#f8f8f8" stroke-width="0.7">2</text>
<circle cx="885.5" cy="744.1" r="15.5" fill="#2a2a2a" opacity="0.35"/>
<circle cx="885.5" cy="741.6" r="16.5" fill="url(#btn)"/>
<text transform="translate(885.5,750.2) scale(1.2,1)" text-anchor="middle" font-size="24" fill="#f8f8f8" stroke="#f8f8f8" stroke-width="0.7">3</text>
<circle cx="791.7" cy="785.8" r="15.5" fill="#2a2a2a" opacity="0.35"/>
<circle cx="791.7" cy="783.3" r="16.5" fill="url(#btn)"/>
<text transform="translate(791.7,791.9) scale(1.2,1)" text-anchor="middle" font-size="24" fill="#f8f8f8" stroke="#f8f8f8" stroke-width="0.7">4</text>
<circle cx="838.5" cy="785.8" r="15.5" fill="#2a2a2a" opacity="0.35"/>
<circle cx="838.5" cy="783.3" r="16.5" fill="url(#btn)"/>
<text transform="translate(838.5,791.9) scale(1.2,1)" text-anchor="middle" font-size="24" fill="#f8f8f8" stroke="#f8f8f8" stroke-width="0.7">5</text>
<circle cx="885.5" cy="785.8" r="15.5" fill="#2a2a2a" opacity="0.35"/>
<circle cx="885.5" cy="783.3" r="16.5" fill="url(#btn)"/>
<text transform="translate(885.5,791.9) scale(1.2,1)" text-anchor="middle" font-size="24" fill="#f8f8f8" stroke="#f8f8f8" stroke-width="0.7">6</text>
<circle cx="791.7" cy="827.5" r="15.5" fill="#2a2a2a" opacity="0.35"/>
<circle cx="791.7" cy="825.0" r="16.5" fill="url(#btn)"/>
<text transform="translate(791.7,833.6) scale(1.2,1)" text-anchor="middle" font-size="24" fill="#f8f8f8" stroke="#f8f8f8" stroke-width="0.7">7</text>
<circle cx="838.5" cy="827.5" r="15.5" fill="#2a2a2a" opacity="0.35"/>
<circle cx="838.5" cy="825.0" r="16.5" fill="url(#btn)"/>
<text transform="translate(838.5,833.6) scale(1.2,1)" text-anchor="middle" font-size="24" fill="#f8f8f8" stroke="#f8f8f8" stroke-width="0.7">8</text>
<circle cx="885.5" cy="827.5" r="15.5" fill="#2a2a2a" opacity="0.35"/>
<circle cx="885.5" cy="825.0" r="16.5" fill="url(#btn)"/>
<text transform="translate(885.5,833.6) scale(1.2,1)" text-anchor="middle" font-size="24" fill="#f8f8f8" stroke="#f8f8f8" stroke-width="0.7">9</text>
</g>
</g>
</svg>
</body></html>
